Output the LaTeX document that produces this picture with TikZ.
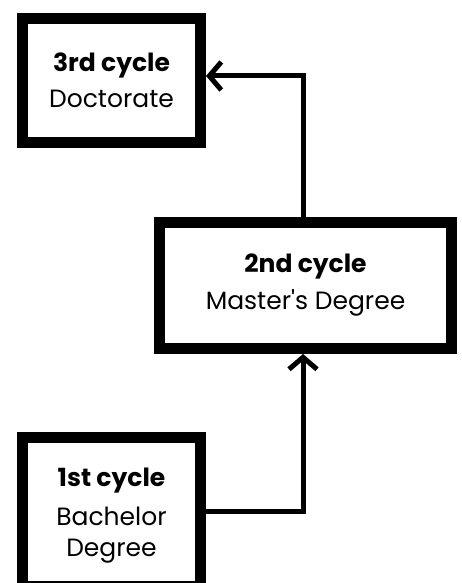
\documentclass[tikz,border=0pt]{standalone}
\usepackage{fontspec}
\setmainfont{Poppins}
\usetikzlibrary{arrows.meta}
\begin{document}
\begin{tikzpicture}[x=1pt,y=1pt,
  cyclebox/.style={draw=black, line width=11pt, fill=white, align=center, inner sep=0pt,
    font=\fontsize{25}{31}\selectfont},
  link/.style={draw=black, line width=5pt, -{Straight Barb[length=12pt,width=28pt]}}
]
\useasboundingbox (0,0) rectangle (462,583);
\fill[white] (0,0) rectangle (462,583);
\begin{scope}
\clip (0,0) rectangle (462,583);
\node[cyclebox, minimum width=178pt, minimum height=124pt] (b3) at (111.5,502.5)
  {\textbf{3rd cycle}\\[5pt] Doctorate};
\node[cyclebox, minimum width=292pt, minimum height=126pt] (b2) at (305.5,297.5)
  {\textbf{2nd cycle}\\[6pt] Master\textquotesingle s Degree};
\node[cyclebox, minimum width=178pt, minimum height=149pt] (b1) at (111.5,71)
  {\raisebox{-4pt}[\height][\depth]{\parbox{160pt}{\centering\textbf{1st cycle}\\[8pt] Bachelor\\ Degree}}};
\coordinate (t1) at (303,507);
\coordinate (t2) at (303,71);
\draw[link] (b2.north -| t1) -- (t1) -- (b3.east |- t1);
\draw[link] (b1.east) -- (t2) -- (b2.south -| t2);
\end{scope}
\end{tikzpicture}
\end{document}
